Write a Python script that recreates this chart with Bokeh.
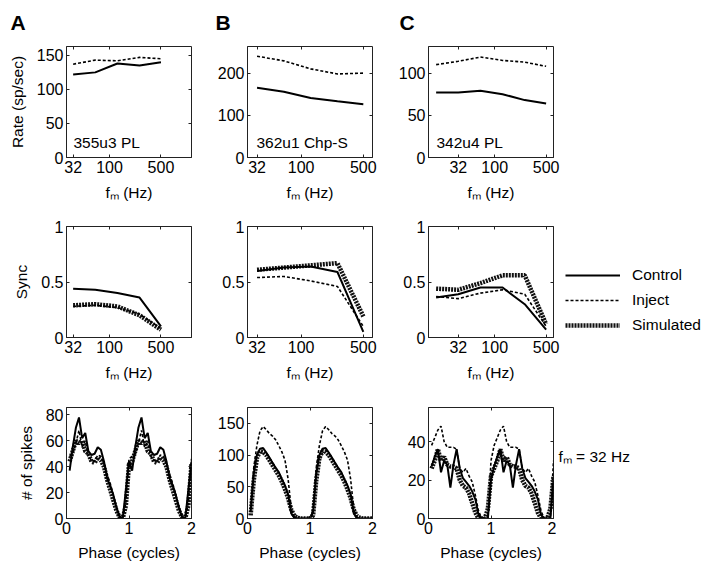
from bokeh.plotting import figure
from bokeh.layouts import column, row
from bokeh.models import Range1d, FixedTicker, LinearAxis, LogAxis, Label, Legend, LegendItem
from bokeh.embed import file_html
from bokeh.resources import INLINE

FONT = "Liberation Sans"

# ---------------- data ----------------
FM_AB = [32, 64, 128, 256, 500]
FM_C = [16, 32, 64, 128, 256, 500]

RATE_A_CONTROL = [122, 125, 138, 135, 140]
RATE_A_INJECT = [137, 143, 142, 147, 145]
RATE_B_CONTROL = [165, 156, 141, 133, 126]
RATE_B_INJECT = [240, 229, 210, 198, 200]
RATE_C_CONTROL = [77, 77, 79, 75, 68, 64]
RATE_C_INJECT = [110, 114, 119, 115, 113, 108]

SYNC_A_CONTROL = [0.44, 0.43, 0.40, 0.36, 0.10]
SYNC_A_INJECT = [0.28, 0.29, 0.27, 0.21, 0.08]
SYNC_A_SIM = [0.29, 0.30, 0.28, 0.20, 0.07]
SYNC_B_CONTROL = [0.60, 0.63, 0.64, 0.59, 0.05]
SYNC_B_INJECT = [0.54, 0.55, 0.51, 0.46, 0.10]
SYNC_B_SIM = [0.61, 0.63, 0.65, 0.67, 0.19]
SYNC_C_CONTROL = [0.36, 0.39, 0.45, 0.45, 0.30, 0.07]
SYNC_C_INJECT = [0.37, 0.35, 0.40, 0.43, 0.39, 0.10]
SYNC_C_SIM = [0.44, 0.43, 0.49, 0.56, 0.56, 0.12]

# one stimulus cycle of the period histograms (plotted twice, as in the figure)
PHASE = [0.05, 0.10, 0.15, 0.20, 0.25, 0.30, 0.35, 0.40, 0.45, 0.50,
         0.55, 0.60, 0.65, 0.70, 0.75, 0.80, 0.85, 0.90, 0.95, 1.00]
HIST_A_CONTROL = [37, 55, 70, 78, 62, 66, 52, 49, 50, 55, 53, 44, 31, 25, 18, 8, 1, 0, 22, 44]
HIST_A_INJECT = [48, 50, 58, 68, 55, 60, 48, 45, 44, 49, 48, 42, 34, 27, 18, 9, 2, 0, 12, 46]
HIST_A_SIM = [44, 52, 60, 58, 60, 52, 50, 44, 43, 47, 45, 40, 30, 22, 14, 6, 1, 0, 10, 42]
HIST_B_CONTROL = [10, 70, 100, 110, 111, 104, 96, 88, 80, 73, 62, 52, 38, 8, 1, 0, 0, 0, 0, 0]
HIST_B_INJECT = [15, 80, 115, 138, 145, 140, 134, 130, 124, 115, 105, 92, 62, 15, 2, 0, 0, 0, 0, 0]
HIST_B_SIM = [5, 60, 95, 106, 105, 100, 92, 84, 76, 68, 58, 46, 32, 14, 4, 1, 0, 0, 0, 0]
HIST_C_CONTROL = [27, 32, 36, 24, 30, 28, 16, 28, 36, 26, 21, 19, 17, 14, 10, 2, 0, 0, 0, 20]
HIST_C_INJECT = [38, 42, 46, 48, 40, 37, 37, 37, 36, 26, 24, 26, 22, 19, 12, 4, 0, 0, 0, 30]
HIST_C_SIM = [26, 30, 36, 30, 32, 28, 27, 27, 26, 20, 17, 16, 13, 8, 3, 0, 0, 0, 5, 22]

FM_TICKS = [32, 100, 500]
PHASE_TICKS = [0, 1, 2]
SERIES = ["Control", "Inject", "Simulated"]
NOTE = "f\u2098 = 32 Hz"

# ---------------- styles ----------------
FRAME_W, FRAME_H = 125, 111
CONTROL_STYLE = dict(line_color="black", line_width=2)
INJECT_STYLE = dict(line_color="black", line_width=1.6, line_dash="3 2")
SIM_STYLE = dict(line_color="#111111", line_width=4.5, line_dash="2 1")


def two_cycles(vals):
    return PHASE + [p + 1 for p in PHASE], vals + vals


def style_axis(ax, ticks, hidden=False, label=None):
    ax.ticker = FixedTicker(ticks=ticks)
    ax.major_tick_in = 3
    ax.major_tick_out = 0
    ax.minor_tick_line_color = None
    ax.major_tick_line_color = "#222222"
    if hidden:
        ax.axis_line_color = None
        ax.major_label_text_color = None
        ax.major_label_text_font_size = "1px"
        ax.major_label_standoff = 0
        ax.axis_label = None
        return
    ax.axis_line_color = "#222222"
    ax.major_label_overrides = {t: ("%g" % t) for t in ticks}
    ax.major_label_text_font = FONT
    ax.major_label_text_font_size = "16px"
    ax.major_label_text_color = "black"
    ax.major_label_standoff = 3
    ax.axis_label = label
    ax.axis_label_text_font = FONT
    ax.axis_label_text_font_size = "15.5px"
    ax.axis_label_text_font_style = "normal"
    ax.axis_label_text_color = "black"


def panel(xr, yr, xlog, xticks, yticks, xlabel, ylabel, left, right, top, bottom,
          xstand=8, ystand=8, letter=None, letter_dx=0):
    p = figure(frame_width=FRAME_W, frame_height=FRAME_H,
               x_axis_type="log" if xlog else "linear",
               x_range=Range1d(*xr), y_range=Range1d(*yr),
               output_backend="svg", toolbar_location=None,
               min_border_left=left, min_border_right=right,
               min_border_top=top, min_border_bottom=bottom,
               background_fill_color="white", border_fill_color="white")
    p.grid.visible = False
    p.outline_line_color = "#222222"
    p.outline_line_width = 1
    style_axis(p.xaxis[0], xticks, label=xlabel)
    style_axis(p.yaxis[0], yticks, label=ylabel)
    p.xaxis[0].axis_label_standoff = xstand
    p.yaxis[0].axis_label_standoff = ystand
    top_ax = LogAxis() if xlog else LinearAxis()
    style_axis(top_ax, xticks, hidden=True)
    p.add_layout(top_ax, "above")
    right_ax = LinearAxis()
    style_axis(right_ax, yticks, hidden=True)
    p.add_layout(right_ax, "right")
    if letter:
        p.title.text = letter
        p.title.text_font = FONT
        p.title.text_font_size = "21px"
        p.title.text_font_style = "bold"
        p.title.text_color = "black"
        p.title.align = "left"
        p.title.vertical_align = "top"
        p.title.offset = letter_dx
        p.title.standoff = 21
    return p


def blank(width, height):
    # text-only cell; Bokeh aligns its frame with the neighbouring panel's frame
    p = figure(width=width, height=height, x_range=Range1d(0, 1), y_range=Range1d(0, 1),
               x_axis_location=None, y_axis_location=None,
               output_backend="svg", toolbar_location=None, min_border=0,
               outline_line_color=None, background_fill_color="white",
               border_fill_color="white")
    p.grid.visible = False
    return p


def draw(p, x, ctrl, inj, sim=None):
    rs = None
    if sim is not None:
        rs = p.line(x, sim, **SIM_STYLE)
    ri = p.line(x, inj, **INJECT_STYLE)
    rc = p.line(x, ctrl, **CONTROL_STYLE)
    return rc, ri, rs


def text(p, x, y, s, dx, dy, size="15.5px"):
    p.add_layout(Label(x=x, y=y, x_offset=dx, y_offset=dy, text=s,
                       text_font=FONT, text_font_size=size,
                       text_color="black", text_baseline="alphabetic",
                       text_align="left"))


XR_A = (26, 1300)
XR_B = (25, 634)
XR_C = (12.6, 630)
FM_LABEL = "f\u2098 (Hz)"

# ---------------- row 1: rate ----------------
a1 = panel(XR_A, (0, 163), True, FM_TICKS, [0, 50, 100, 150], FM_LABEL, "Rate (sp/sec)",
           66, 9, 46, 55, letter="A", letter_dx=-56)
draw(a1, FM_AB, RATE_A_CONTROL, RATE_A_INJECT)
text(a1, XR_A[0], 0, "355u3 PL", 7, 15)

b1 = panel(XR_B, (0, 263), True, FM_TICKS, [0, 100, 200], FM_LABEL, None,
           47, 9, 46, 55, letter="B", letter_dx=-32)
draw(b1, FM_AB, RATE_B_CONTROL, RATE_B_INJECT)
text(b1, XR_B[0], 0, "362u1 Chp-S", 9, 15)

c1 = panel(XR_C, (0, 131.5), True, FM_TICKS, [0, 50, 100], FM_LABEL, None,
           47, 9, 46, 55, letter="C", letter_dx=-29)
draw(c1, FM_C, RATE_C_CONTROL, RATE_C_INJECT)
text(c1, XR_C[0], 0, "342u4 PL", 8, 15)

# ---------------- row 2: sync ----------------
a2 = panel(XR_A, (0, 1), True, FM_TICKS, [0, 0.5, 1], FM_LABEL, "Sync", 66, 9, 14, 56)
draw(a2, FM_AB, SYNC_A_CONTROL, SYNC_A_INJECT, SYNC_A_SIM)

b2 = panel(XR_B, (0, 1), True, FM_TICKS, [0, 0.5, 1], FM_LABEL, None, 47, 9, 14, 56)
draw(b2, FM_AB, SYNC_B_CONTROL, SYNC_B_INJECT, SYNC_B_SIM)

c2 = panel(XR_C, (0, 1), True, FM_TICKS, [0, 0.5, 1], FM_LABEL, None, 47, 9, 14, 56)
draw(c2, FM_C, SYNC_C_CONTROL, SYNC_C_INJECT, SYNC_C_SIM)

# legend cell: the same series drawn outside its visible range, only the key shows
leg2 = blank(146, 181)
k_c, k_i, k_s = draw(leg2, FM_C, SYNC_C_CONTROL, SYNC_C_INJECT, SYNC_C_SIM)
legend = Legend(items=[LegendItem(label=SERIES[0], renderers=[k_c]),
                       LegendItem(label=SERIES[1], renderers=[k_i]),
                       LegendItem(label=SERIES[2], renderers=[k_s])],
                location=(3, 0), glyph_width=55, glyph_height=24, label_height=24,
                spacing=1, padding=0, margin=0, label_standoff=12,
                border_line_color=None, background_fill_alpha=0,
                label_text_font=FONT, label_text_font_size="15.5px", label_text_color="black")
leg2.add_layout(legend)

# ---------------- row 3: period histograms ----------------
a3 = panel((0, 2), (0, 85.7), False, PHASE_TICKS, [0, 20, 40, 60, 80], "Phase (cycles)", "# of spikes",
           66, 9, 14, 51, xstand=7)
xs, _ = two_cycles(HIST_A_SIM)
draw(a3, xs, two_cycles(HIST_A_CONTROL)[1], two_cycles(HIST_A_INJECT)[1], two_cycles(HIST_A_SIM)[1])

b3 = panel((0, 2), (0, 175), False, PHASE_TICKS, [0, 50, 100, 150], "Phase (cycles)", None,
           47, 9, 14, 51, xstand=7)
draw(b3, xs, two_cycles(HIST_B_CONTROL)[1], two_cycles(HIST_B_INJECT)[1], two_cycles(HIST_B_SIM)[1])

c3 = panel((0, 2), (0, 57.7), False, PHASE_TICKS, [0, 20, 40], "Phase (cycles)", None,
           47, 3, 14, 51, xstand=7)
draw(c3, xs, two_cycles(HIST_C_CONTROL)[1], two_cycles(HIST_C_INJECT)[1], two_cycles(HIST_C_SIM)[1])

note3 = blank(152, 176)
text(note3, 0, 0, NOTE, 2, 62)

layout = column(row(a1, b1, c1), row(a2, b2, c2, leg2), row(a3, b3, c3, note3))

with open("out.html", "w") as f:
    f.write(file_html(layout, INLINE))
